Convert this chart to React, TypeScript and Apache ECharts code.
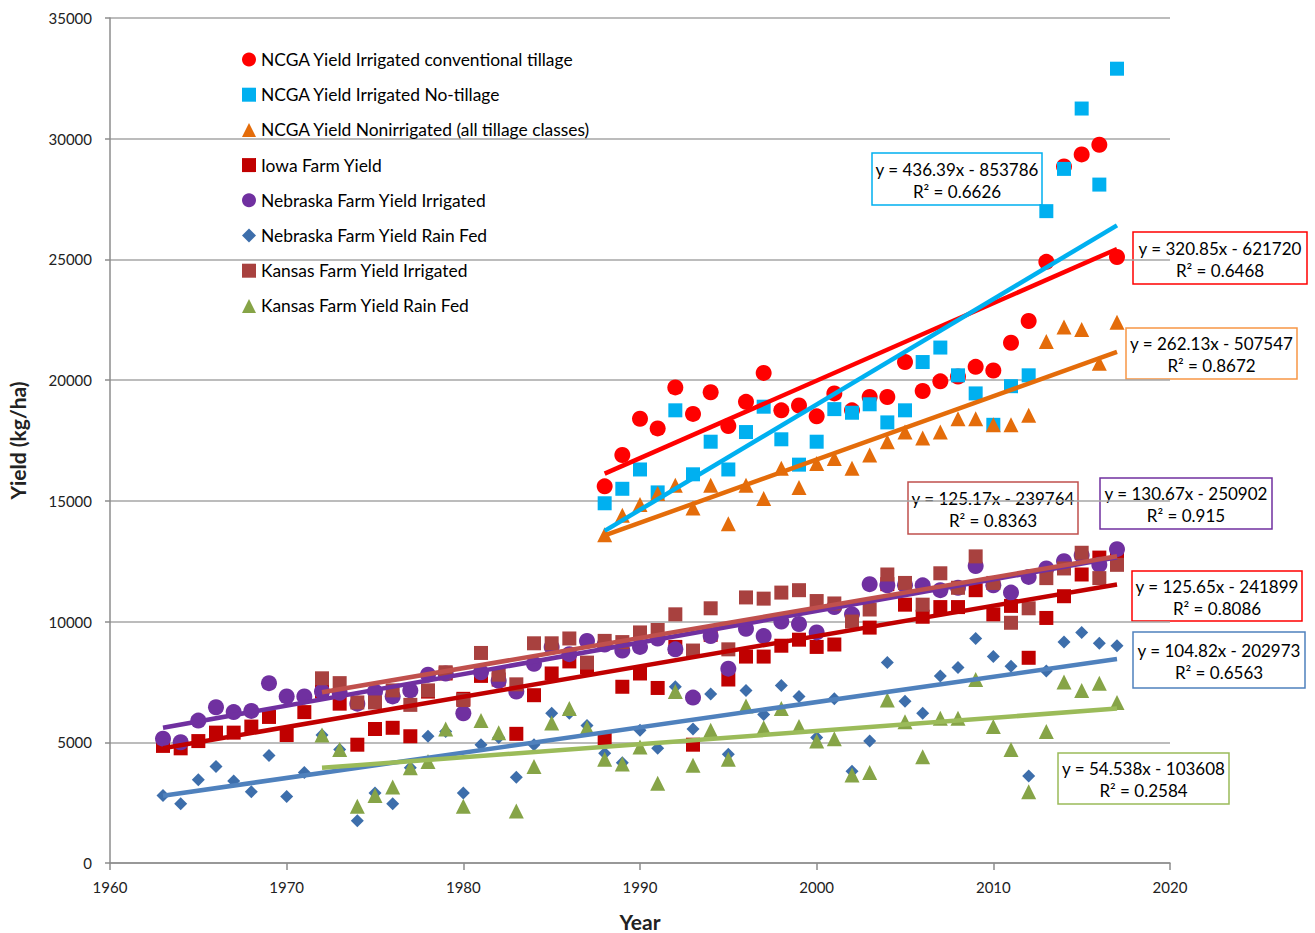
import React, { useEffect, useRef } from "react";
import * as echarts from "echarts";

// ---------- DATA ----------
const yearsAll = [
  1963, 1964, 1965, 1966, 1967, 1968, 1969, 1970, 1971, 1972, 1973, 1974, 1975, 1976, 1977, 1978, 1979,
  1980, 1981, 1982, 1983, 1984, 1985, 1986, 1987, 1988, 1989, 1990, 1991, 1992, 1993, 1994, 1995, 1996,
  1997, 1998, 1999, 2000, 2001, 2002, 2003, 2004, 2005, 2006, 2007, 2008, 2009, 2010, 2011, 2012, 2013,
  2014, 2015, 2016, 2017,
];
const yearsKansas = yearsAll.slice(yearsAll.indexOf(1972));
const yearsNcga = yearsAll.slice(yearsAll.indexOf(1988));

const ncgaConventional = [
  15600, 16900, 18400, 18000, 19700, 18600, 19500, 18100, 19100, 20300, 18750, 18950, 18500, 19450, 18750,
  19300, 19300, 20750, 19550, 19950, 20150, 20550, 20400, 21550, 22450, 24900, 28850, 29350, 29750, 25100,
];
const ncgaNoTill = [
  14900, 15500, 16300, 15350, 18750, 16100, 17450, 16300, 17850, 18900, 17550, 16500, 17450, 18800, 18650,
  19000, 18250, 18750, 20750, 21350, 20200, 19450, 18150, 19750, 20200, 27000, 28750, 31250, 28100, 32900,
];
const ncgaNonIrrigated = [
  13600, 14400, 14850, 15300, 15650, 14700, 15650, 14050, 15650, 15100, 16350, 15550, 16550, 16750, 16350,
  16900, 17450, 17850, 17600, 17850, 18400, 18400, 18150, 18150, 18550, 21600, 22200, 22100, 20700, 22400,
];
const iowaFarm = [
  4850, 4750, 5050, 5400, 5400, 5650, 6050, 5300, 6250, 7100, 6600, 4900, 5550, 5600, 5250, 7100, 7850,
  6800, 7750, 7600, 5350, 6950, 7850, 8350, 8100, 5150, 7300, 7850, 7250, 8950, 4900, 9450, 7600, 8550,
  8550, 9000, 9250, 8950, 9050, 10100, 9750, 11550, 10700, 10200, 10600, 10600, 11300, 10300, 10650, 8500,
  10150, 11050, 11950, 12650, 12700,
];
const nebraskaIrrigated = [
  5150, 5000, 5900, 6450, 6250, 6300, 7450, 6900, 6900, 7100, 7050, 6600, 7100, 6900, 7150, 7800, 7850,
  6200, 7900, 7550, 7100, 8250, 8950, 8650, 9200, 9050, 8800, 8950, 9300, 8850, 6850, 9400, 8050, 9700,
  9400, 10000, 9900, 9550, 10600, 10300, 11550, 11500, 11500, 11500, 11300, 11400, 12300, 11500, 11200,
  11850, 12200, 12500, 12750, 12350, 13000,
];
const nebraskaRainFed = [
  2800, 2450, 3450, 4000, 3400, 2950, 4450, 2750, 3750, 5300, 4700, 1750, 2900, 2450, 3950, 5250, 5450,
  2900, 4900, 5200, 3550, 4900, 6200, 6200, 5700, 4550, 4150, 5500, 4750, 7300, 5550, 7000, 4500, 7150,
  6150, 7350, 6900, 5200, 6800, 3800, 5050, 8300, 6700, 6200, 7750, 8100, 9300, 8550, 8150, 3600, 7950,
  9150, 9550, 9100, 9000,
];
const kansasIrrigated = [
  7650, 7450, 6650, 6650, 7150, 6550, 7150, 7900, 6750, 8700, 7800, 7400, 9100, 9100, 9300, 8300, 9200,
  9150, 9550, 9650, 10300, 8800, 10550, 8850, 11000, 10950, 11200, 11300, 10850, 10750, 10000, 10500,
  11950, 11600, 10700, 12000, 11400, 12700, 11600, 9950, 10550, 11800, 12200, 12850, 11800, 12350,
];
const kansasRainFed = [
  5300, 4700, 2350, 2800, 3150, 3950, 4200, 5550, 2350, 5900, 5400, 2150, 4000, 5800, 6400, 5600, 4300,
  4100, 4800, 3300, 7100, 4050, 5500, 4300, 6500, 5600, 6400, 5650, 5050, 5150, 3650, 3750, 6750, 5850,
  4400, 6000, 6000, 7600, 5650, 4700, 2950, 5450, 7500, 7150, 7450, 6650,
];

const seriesNames = [
  "NCGA Yield Irrigated conventional tillage",
  "NCGA Yield Irrigated No-tillage",
  "NCGA Yield Nonirrigated (all tillage classes)",
  "Iowa Farm Yield",
  "Nebraska Farm Yield Irrigated",
  "Nebraska Farm Yield Rain Fed",
  "Kansas Farm Yield Irrigated",
  "Kansas Farm Yield Rain Fed",
];

// trend-line equations as printed on the chart
const trendSlopes = [320.85, 436.39, 262.13, 125.65, 130.67, 104.82, 125.17, 54.538];
const trendIntercepts = [-621720, -853786, -507547, -241899, -250902, -202973, -239764, -103608];
const trendR2 = ["0.6468", "0.6626", "0.8672", "0.8086", "0.915", "0.6563", "0.8363", "0.2584"];
const trendLabels = [
  "y = 320.85x - 621720",
  "y = 436.39x - 853786",
  "y = 262.13x - 507547",
  "y = 125.65x - 241899",
  "y = 130.67x - 250902",
  "y = 104.82x - 202973",
  "y = 125.17x - 239764",
  "y = 54.538x - 103608",
];

const xTicks = [1960, 1970, 1980, 1990, 2000, 2010, 2020];
const yTicks = [0, 5000, 10000, 15000, 20000, 25000, 30000, 35000];

// ---------- STYLE ----------
const FONT = "Lato, 'Noto Sans', 'DejaVu Sans', sans-serif";
const markerColors = ["#ff0000", "#00b0f0", "#e46c0a", "#c00000", "#7030a0", "#3d6eab", "#a8413f", "#86a447"];
const trendColors = ["#ff0000", "#00b0f0", "#e46c0a", "#c00000", "#7030a0", "#4f81bd", "#c0504d", "#9bbb59"];
const boxColors = ["#ff0000", "#00b0f0", "#f79646", "#ff0000", "#7030a0", "#4f81bd", "#c0504d", "#9bbb59"];
const symbols = ["circle", "rect", "triangle", "rect", "circle", "diamond", "rect", "triangle"];
const symbolSizes = [16, 14, 15, 14, 16, 13, 14, 15];
// label boxes [left, top, width, height] in pixels
const boxes = [
  [1133, 232, 174, 52],
  [872, 153, 170, 52],
  [1126, 328, 171, 51],
  [1132, 571, 170, 50],
  [1100, 478, 172, 51],
  [1133, 632, 172, 56],
  [908, 482, 170, 52],
  [1058, 753, 171, 51],
];

export default function App() {
  const ref = useRef<HTMLDivElement>(null);

  useEffect(() => {
    if (!ref.current) return;
    const chart = echarts.init(ref.current, undefined, { renderer: "svg" });

    const yearSets = [yearsNcga, yearsNcga, yearsNcga, yearsAll, yearsAll, yearsAll, yearsKansas, yearsKansas];
    const valueSets = [
      ncgaConventional,
      ncgaNoTill,
      ncgaNonIrrigated,
      iowaFarm,
      nebraskaIrrigated,
      nebraskaRainFed,
      kansasIrrigated,
      kansasRainFed,
    ];

    const scatterSeries = seriesNames.map((name, i) => ({
      name,
      type: "scatter",
      symbol: symbols[i],
      symbolSize: symbolSizes[i],
      itemStyle: { color: markerColors[i], opacity: 1 },
      z: 2,
      data: yearSets[i].map((yr, k) => [yr, valueSets[i][k]]),
    }));

    const trendSeries = seriesNames.map((name, i) => {
      const ys = yearSets[i];
      const x0 = ys[0];
      const x1 = ys[ys.length - 1];
      return {
        name: name + " trend",
        type: "line",
        symbol: "none",
        silent: true,
        z: 3,
        lineStyle: { color: trendColors[i], width: 4.5 },
        data: [
          [x0, trendSlopes[i] * x0 + trendIntercepts[i]],
          [x1, trendSlopes[i] * x1 + trendIntercepts[i]],
        ],
      };
    });

    const graphics = boxes.map((b, i) => ({
      type: "group",
      z: 10,
      children: [
        {
          type: "rect",
          shape: { x: b[0], y: b[1], width: b[2], height: b[3] },
          style: { fill: "none", stroke: boxColors[i], lineWidth: 1.5 },
        },
        {
          type: "text",
          x: b[0] + b[2] / 2,
          y: b[1] + b[3] / 2 + 1,
          style: {
            text: trendLabels[i] + "\nR² = " + trendR2[i],
            align: "center",
            verticalAlign: "middle",
            fill: "#000",
            font: "17px " + FONT,
            lineHeight: 22,
          },
        },
      ],
    }));

    chart.setOption({
      animation: false,
      backgroundColor: "#ffffff",
      textStyle: { fontFamily: FONT },
      grid: { left: 110, right: 145, top: 18, bottom: 70, containLabel: false, outerBoundsMode: "none" },
      legend: {
        data: seriesNames,
        orient: "vertical",
        left: 242,
        top: 51,
        padding: 0,
        itemWidth: 14,
        itemHeight: 14,
        itemGap: 18.2,
        selectedMode: false,
        textStyle: { fontSize: 17.4, color: "#000", fontFamily: FONT, lineHeight: 15 },
      },
      xAxis: {
        type: "value",
        min: xTicks[0],
        max: xTicks[xTicks.length - 1],
        interval: 10,
        name: "Year",
        nameLocation: "middle",
        nameGap: 48,
        nameTextStyle: { fontSize: 21, fontWeight: "bold", color: "#222", fontFamily: FONT },
        axisLine: { show: true, lineStyle: { color: "#8c8c8c", width: 1.5 } },
        axisTick: { show: true, length: 7, lineStyle: { color: "#8c8c8c", width: 1.5 } },
        axisLabel: { fontSize: 15, color: "#222", margin: 16, fontFamily: FONT, formatter: (v: number) => String(v) },
        splitLine: { show: false },
      },
      yAxis: {
        type: "value",
        min: yTicks[0],
        max: yTicks[yTicks.length - 1],
        interval: 5000,
        name: "Yield (kg/ha)",
        nameLocation: "middle",
        nameGap: 82,
        nameTextStyle: { fontSize: 21, fontWeight: "bold", color: "#222", fontFamily: FONT },
        axisLine: { show: true, lineStyle: { color: "#8c8c8c", width: 1.5 } },
        axisTick: { show: true, length: 5, lineStyle: { color: "#8c8c8c", width: 1.5 } },
        axisLabel: { fontSize: 15, color: "#222", margin: 18, fontFamily: FONT, formatter: (v: number) => String(v) },
        splitLine: { show: true, lineStyle: { color: "#a6a6a6", width: 1.5 } },
      },
      series: [...scatterSeries, ...trendSeries],
      graphic: graphics,
    });

    return () => chart.dispose();
  }, []);

  return (
    <div
      ref={ref}
      style={{ position: "absolute", left: 0, top: 0, width: 1315, height: 933, background: "#fff" }}
    />
  );
}
